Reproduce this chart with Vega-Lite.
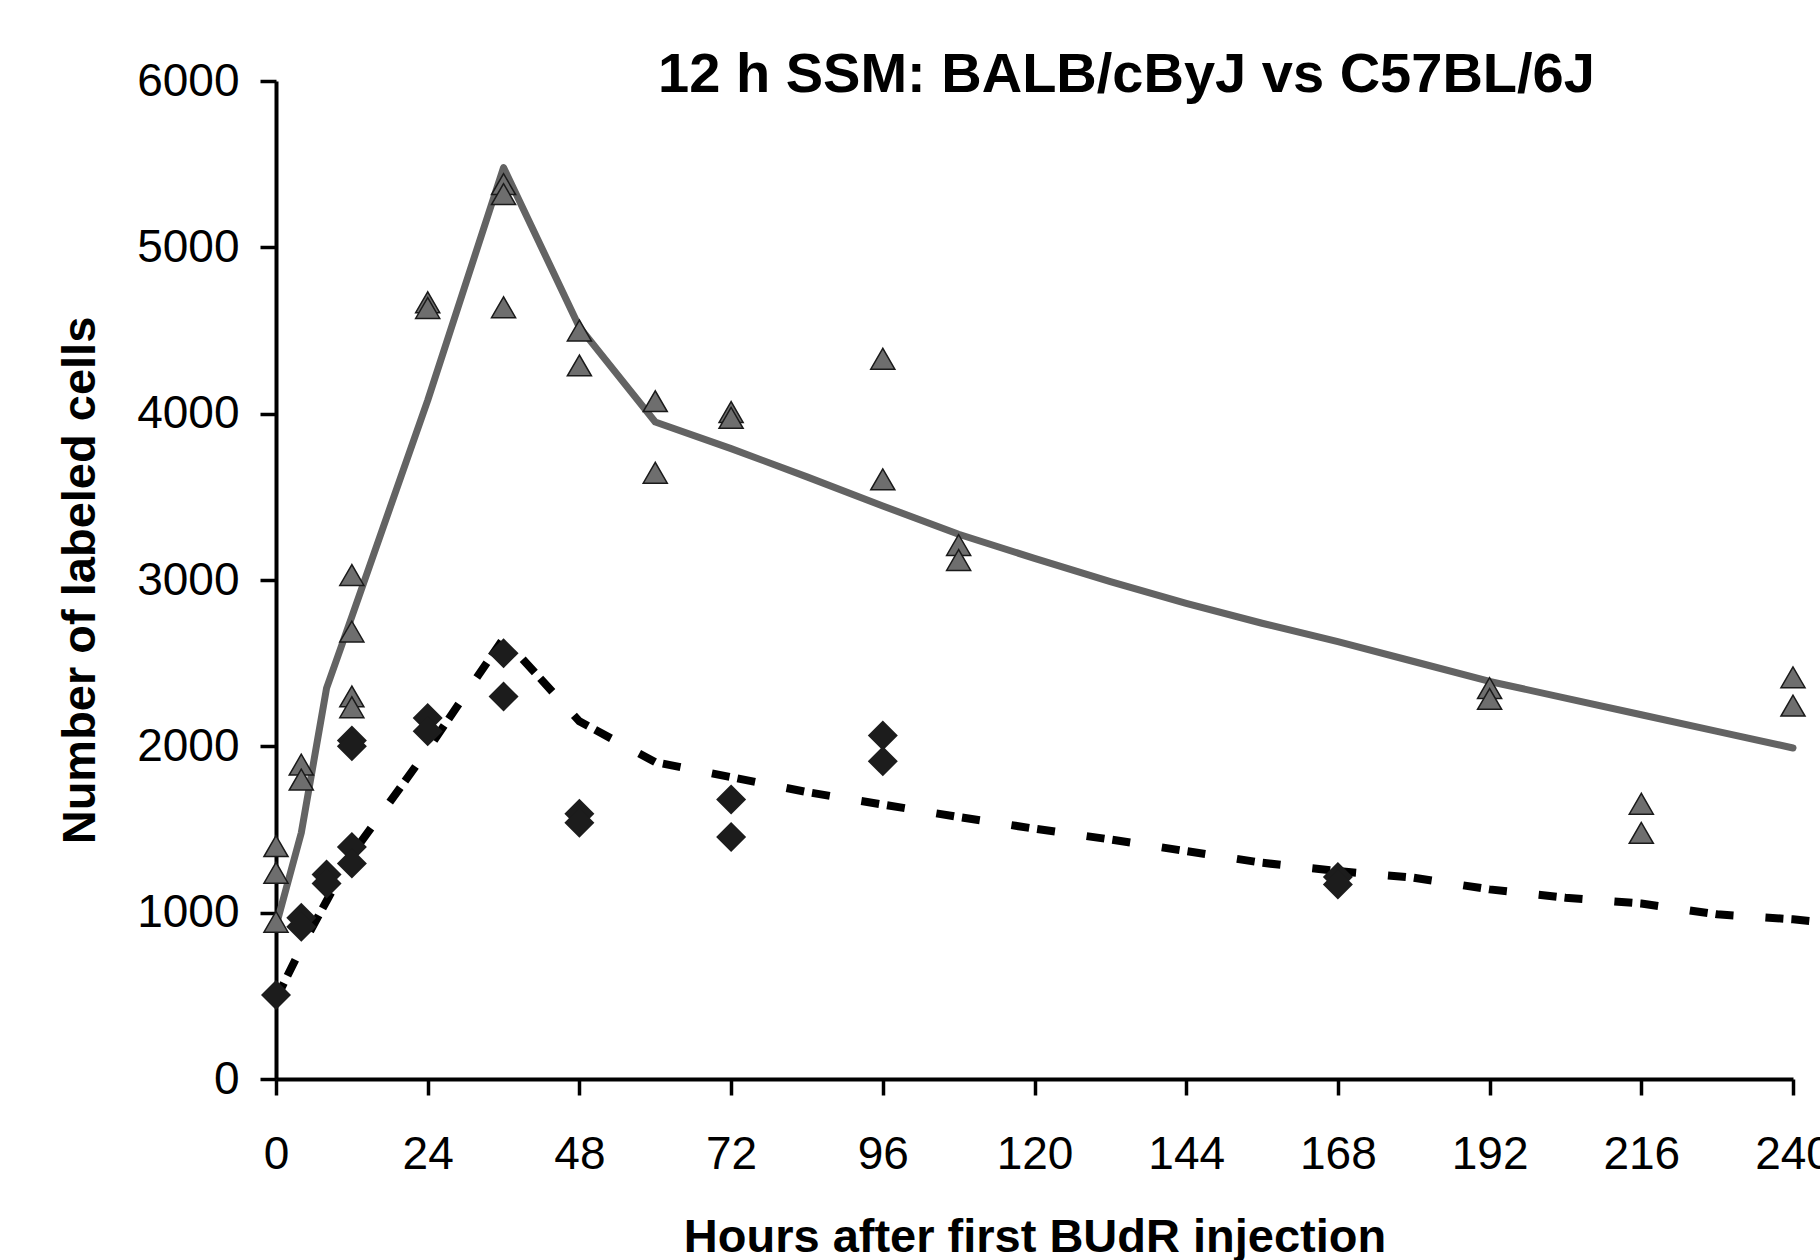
{
  "$schema": "https://vega.github.io/schema/vega-lite/v6.json",
  "width": 1517,
  "height": 998,
  "autosize": {"type": "none"},
  "padding": {"left": 276, "top": 81, "right": 27, "bottom": 181},
  "background": "white",
  "config": {
    "view": {"stroke": null},
    "axis": {
      "domainColor": "#000000",
      "domainWidth": 4,
      "tickColor": "#000000",
      "tickWidth": 3.5,
      "tickSize": 16,
      "labelFont": "Liberation Sans",
      "labelFontSize": 46,
      "labelColor": "#000000",
      "titleFont": "Liberation Sans",
      "titleFontSize": 47,
      "titleFontWeight": "bold",
      "titleColor": "#000000",
      "grid": false,
      "zindex": 1
    }
  },
  "title": {
    "text": "12 h SSM: BALB/cByJ vs C57BL/6J",
    "font": "Liberation Sans",
    "fontSize": 56,
    "fontWeight": "bold",
    "color": "#000000",
    "anchor": "middle",
    "frame": "group",
    "dx": 92,
    "dy": 50
  },
  "datasets": {
    "points": [
      {"strain": "BALB/cByJ", "hour": 0, "cells": 1400},
      {"strain": "BALB/cByJ", "hour": 0, "cells": 1240},
      {"strain": "BALB/cByJ", "hour": 0, "cells": 945},
      {"strain": "BALB/cByJ", "hour": 4, "cells": 1890},
      {"strain": "BALB/cByJ", "hour": 4, "cells": 1800},
      {"strain": "BALB/cByJ", "hour": 12, "cells": 3030},
      {"strain": "BALB/cByJ", "hour": 12, "cells": 2690},
      {"strain": "BALB/cByJ", "hour": 12, "cells": 2300},
      {"strain": "BALB/cByJ", "hour": 12, "cells": 2235},
      {"strain": "BALB/cByJ", "hour": 24, "cells": 4670},
      {"strain": "BALB/cByJ", "hour": 24, "cells": 4635},
      {"strain": "BALB/cByJ", "hour": 36, "cells": 5380},
      {"strain": "BALB/cByJ", "hour": 36, "cells": 5320},
      {"strain": "BALB/cByJ", "hour": 36, "cells": 4640},
      {"strain": "BALB/cByJ", "hour": 48, "cells": 4500},
      {"strain": "BALB/cByJ", "hour": 48, "cells": 4290},
      {"strain": "BALB/cByJ", "hour": 60, "cells": 4075},
      {"strain": "BALB/cByJ", "hour": 60, "cells": 3645},
      {"strain": "BALB/cByJ", "hour": 72, "cells": 4010},
      {"strain": "BALB/cByJ", "hour": 72, "cells": 3975},
      {"strain": "BALB/cByJ", "hour": 96, "cells": 4330},
      {"strain": "BALB/cByJ", "hour": 96, "cells": 3605},
      {"strain": "BALB/cByJ", "hour": 108, "cells": 3210},
      {"strain": "BALB/cByJ", "hour": 108, "cells": 3120},
      {"strain": "BALB/cByJ", "hour": 192, "cells": 2350},
      {"strain": "BALB/cByJ", "hour": 192, "cells": 2285},
      {"strain": "BALB/cByJ", "hour": 216, "cells": 1655},
      {"strain": "BALB/cByJ", "hour": 216, "cells": 1480},
      {"strain": "BALB/cByJ", "hour": 240, "cells": 2415},
      {"strain": "BALB/cByJ", "hour": 240, "cells": 2245},
      {"strain": "C57BL/6J", "hour": 0, "cells": 505},
      {"strain": "C57BL/6J", "hour": 4, "cells": 970},
      {"strain": "C57BL/6J", "hour": 4, "cells": 915},
      {"strain": "C57BL/6J", "hour": 8, "cells": 1230},
      {"strain": "C57BL/6J", "hour": 8, "cells": 1175},
      {"strain": "C57BL/6J", "hour": 12, "cells": 2035},
      {"strain": "C57BL/6J", "hour": 12, "cells": 2000},
      {"strain": "C57BL/6J", "hour": 12, "cells": 1395},
      {"strain": "C57BL/6J", "hour": 12, "cells": 1295},
      {"strain": "C57BL/6J", "hour": 24, "cells": 2170},
      {"strain": "C57BL/6J", "hour": 24, "cells": 2090},
      {"strain": "C57BL/6J", "hour": 36, "cells": 2560},
      {"strain": "C57BL/6J", "hour": 36, "cells": 2300},
      {"strain": "C57BL/6J", "hour": 48, "cells": 1595},
      {"strain": "C57BL/6J", "hour": 48, "cells": 1540},
      {"strain": "C57BL/6J", "hour": 72, "cells": 1680},
      {"strain": "C57BL/6J", "hour": 72, "cells": 1455},
      {"strain": "C57BL/6J", "hour": 96, "cells": 2065},
      {"strain": "C57BL/6J", "hour": 96, "cells": 1910},
      {"strain": "C57BL/6J", "hour": 168, "cells": 1215},
      {"strain": "C57BL/6J", "hour": 168, "cells": 1170}
    ],
    "fit": [
      {"strain": "BALB/cByJ", "hour": 0, "cells": 920},
      {"strain": "BALB/cByJ", "hour": 4, "cells": 1480},
      {"strain": "BALB/cByJ", "hour": 8, "cells": 2350},
      {"strain": "BALB/cByJ", "hour": 12, "cells": 2780},
      {"strain": "BALB/cByJ", "hour": 24, "cells": 4080},
      {"strain": "BALB/cByJ", "hour": 36, "cells": 5480},
      {"strain": "BALB/cByJ", "hour": 48, "cells": 4520},
      {"strain": "BALB/cByJ", "hour": 60, "cells": 3950},
      {"strain": "BALB/cByJ", "hour": 72, "cells": 3790},
      {"strain": "BALB/cByJ", "hour": 84, "cells": 3620},
      {"strain": "BALB/cByJ", "hour": 96, "cells": 3445},
      {"strain": "BALB/cByJ", "hour": 108, "cells": 3275},
      {"strain": "BALB/cByJ", "hour": 120, "cells": 3130},
      {"strain": "BALB/cByJ", "hour": 132, "cells": 2990},
      {"strain": "BALB/cByJ", "hour": 144, "cells": 2860},
      {"strain": "BALB/cByJ", "hour": 156, "cells": 2740},
      {"strain": "BALB/cByJ", "hour": 168, "cells": 2630},
      {"strain": "BALB/cByJ", "hour": 180, "cells": 2510},
      {"strain": "BALB/cByJ", "hour": 192, "cells": 2390},
      {"strain": "BALB/cByJ", "hour": 204, "cells": 2290},
      {"strain": "BALB/cByJ", "hour": 216, "cells": 2190},
      {"strain": "BALB/cByJ", "hour": 228, "cells": 2090},
      {"strain": "BALB/cByJ", "hour": 240, "cells": 1990},
      {"strain": "C57BL/6J", "hour": 0, "cells": 480},
      {"strain": "C57BL/6J", "hour": 4, "cells": 790},
      {"strain": "C57BL/6J", "hour": 8, "cells": 1070},
      {"strain": "C57BL/6J", "hour": 12, "cells": 1350},
      {"strain": "C57BL/6J", "hour": 24, "cells": 1980},
      {"strain": "C57BL/6J", "hour": 36, "cells": 2650},
      {"strain": "C57BL/6J", "hour": 48, "cells": 2150},
      {"strain": "C57BL/6J", "hour": 60, "cells": 1905},
      {"strain": "C57BL/6J", "hour": 72, "cells": 1815},
      {"strain": "C57BL/6J", "hour": 84, "cells": 1725},
      {"strain": "C57BL/6J", "hour": 96, "cells": 1650},
      {"strain": "C57BL/6J", "hour": 108, "cells": 1575},
      {"strain": "C57BL/6J", "hour": 120, "cells": 1505},
      {"strain": "C57BL/6J", "hour": 132, "cells": 1440},
      {"strain": "C57BL/6J", "hour": 144, "cells": 1370},
      {"strain": "C57BL/6J", "hour": 156, "cells": 1300},
      {"strain": "C57BL/6J", "hour": 168, "cells": 1250},
      {"strain": "C57BL/6J", "hour": 180, "cells": 1210},
      {"strain": "C57BL/6J", "hour": 192, "cells": 1140},
      {"strain": "C57BL/6J", "hour": 204, "cells": 1090},
      {"strain": "C57BL/6J", "hour": 216, "cells": 1055},
      {"strain": "C57BL/6J", "hour": 228, "cells": 990},
      {"strain": "C57BL/6J", "hour": 240, "cells": 960},
      {"strain": "C57BL/6J", "hour": 244, "cells": 945}
    ]
  },
  "encoding": {
    "x": {
      "field": "hour",
      "type": "quantitative",
      "scale": {"domain": [0, 240], "nice": false, "zero": false},
      "axis": {
        "title": "Hours after first BUdR injection",
        "values": [0, 24, 48, 72, 96, 120, 144, 168, 192, 216, 240],
        "labelPadding": 37,
        "titlePadding": 37,
        "labelFlush": false,
        "labelOverlap": false
      }
    },
    "y": {
      "field": "cells",
      "type": "quantitative",
      "scale": {"domain": [0, 6000], "nice": false},
      "axis": {
        "title": "Number of labeled cells",
        "values": [0, 1000, 2000, 3000, 4000, 5000, 6000],
        "format": "d",
        "labelPadding": 21,
        "titlePadding": 32,
        "labelFlush": false,
        "labelOverlap": false
      }
    }
  },
  "layer": [
    {
      "data": {"name": "fit"},
      "transform": [{"filter": "datum.strain === 'C57BL/6J'"}],
      "mark": {"type": "line", "color": "#000000", "strokeWidth": 8, "strokeDash": [18, 8, 18, 32], "strokeCap": "butt", "strokeJoin": "miter"}
    },
    {
      "data": {"name": "fit"},
      "transform": [{"filter": "datum.strain === 'BALB/cByJ'"}],
      "mark": {"type": "line", "color": "#636363", "strokeWidth": 7, "strokeCap": "round", "strokeJoin": "round"}
    },
    {
      "data": {"name": "points"},
      "transform": [{"filter": "datum.strain === 'BALB/cByJ'"}],
      "mark": {"type": "point", "shape": "triangle-up", "size": 580, "filled": true, "fill": "#6e6e6e", "stroke": "#1a1a1a", "strokeWidth": 1.5, "opacity": 1, "fillOpacity": 1}
    },
    {
      "data": {"name": "points"},
      "transform": [{"filter": "datum.strain === 'C57BL/6J'"}],
      "mark": {"type": "point", "shape": "diamond", "size": 900, "filled": true, "fill": "#1c1c1c", "strokeWidth": 0, "opacity": 1, "fillOpacity": 1}
    }
  ]
}
